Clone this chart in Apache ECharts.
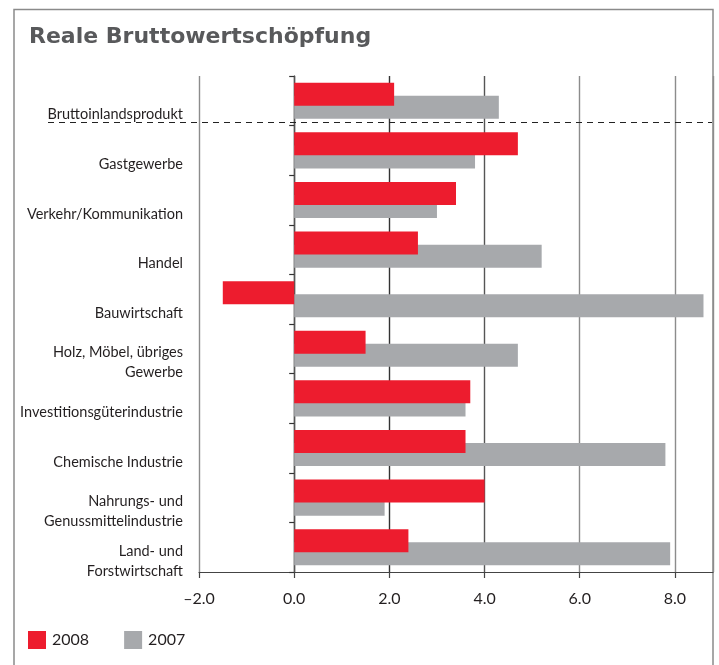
<!DOCTYPE html>
<html>
<head>
<meta charset="utf-8">
<script src="https://cdn.jsdelivr.net/npm/echarts@6/dist/echarts.min.js"></script>
<style>
html,body{margin:0;padding:0;background:#fff;}
#chart{width:719px;height:665px;}
</style>
</head>
<body>
<div id="chart"></div>
<script>
var titleText = 'Reale Bruttowertschöpfung';
var categories = ['Bruttoinlandsprodukt','Gastgewerbe','Verkehr/Kommunikation','Handel','Bauwirtschaft','Holz, Möbel, übriges\nGewerbe','Investitionsgüterindustrie','Chemische Industrie','Nahrungs- und\nGenussmittelindustrie','Land- und\nForstwirtschaft'];
var values2008 = [2.1, 4.7, 3.4, 2.6, -1.5, 1.5, 3.7, 3.6, 4.0, 2.4];
var values2007 = [4.3, 3.8, 3.0, 5.2, 8.6, 4.7, 3.6, 7.8, 1.9, 7.9];
var seriesNames = ['2008', '2007'];
var xMin = -2, xMax = 8.8, xStep = 2;

var chart = echarts.init(document.getElementById('chart'), null, {renderer: 'canvas'});
var labelFont = 'Lato, "Liberation Sans", sans-serif';
var option = {
  animation: false,
  backgroundColor: '#fff',
  title: {
    text: titleText,
    left: 29, top: 26,
    padding: 0,
    textStyle: {fontFamily: '"DejaVu Sans", sans-serif', fontWeight: 'bold', fontSize: 22, color: '#58595b'}
  },
  legend: {
    data: seriesNames,
    left: 28, top: 631,
    padding: 0,
    itemWidth: 18, itemHeight: 18, itemGap: 35,
    icon: 'rect',
    textStyle: {fontFamily: labelFont, fontSize: 16, color: '#231f20', padding: [0,0,0,1]}
  },
  grid: {left: 199, right: 6, top: 76, bottom: 93, containLabel: false},
  xAxis: {
    type: 'value', min: xMin, max: xMax, interval: xStep,
    axisLine: {show: true, lineStyle: {color: '#444', width: 1.2}},
    axisTick: {show: true, length: 6, lineStyle: {color: '#444', width: 1.2}},
    axisLabel: {
      showMaxLabel: false, margin: 19,
      fontFamily: labelFont, fontSize: 16, color: '#231f20',
      formatter: function (v) { return (v < 0 ? '\u2013' : '') + Math.abs(v).toFixed(1); }
    },
    splitLine: {show: true, lineStyle: {color: ['#8c8c8c','#555','#333','#555','#8c8c8c','#8c8c8c','#8c8c8c'], width: 1.4}}
  },
  yAxis: [{
    type: 'category', data: categories, inverse: true,
    axisLine: {show: false, onZero: false},
    axisTick: {show: false},
    splitLine: {show: false},
    axisLabel: {
      interval: 0, showMinLabel: true, showMaxLabel: true,
      margin: 16, align: 'right',
      formatter: function (v) { return '{s| }\n{t|' + v + '}'; },
      rich: {
        s: {fontSize: 4, lineHeight: 28},
        t: {fontFamily: labelFont, fontSize: 14.5, color: '#231f20', lineHeight: 20, align: 'right'}
      }
    }
  }, {
    type: 'category', data: categories, inverse: true, position: 'left',
    axisLine: {show: true, onZero: true, lineStyle: {color: '#555', width: 1.4}},
    axisTick: {show: true, length: 5, inside: false, lineStyle: {color: '#333', width: 1.2}},
    axisLabel: {show: false},
    splitLine: {show: false}
  }],
  series: [{
    name: seriesNames[0], type: 'bar', data: values2008, yAxisIndex: 0,
    barWidth: 23, barGap: '-43%', z: 3,
    itemStyle: {color: '#ed1c2e'}
  }, {
    name: seriesNames[1], type: 'bar', data: values2007, yAxisIndex: 0,
    barWidth: 23, z: 2,
    itemStyle: {color: '#a7a9ac'}
  }],
  graphic: [{
    type: 'rect', silent: true, z: 0,
    shape: {x: 14, y: 9.5, width: 699, height: 700},
    style: {fill: null, stroke: '#8a8a8a', lineWidth: 1.5}
  }, {
    type: 'line', silent: true, z: 20,
    shape: {x1: 48, y1: 122.5, x2: 712, y2: 122.5},
    style: {stroke: '#222', lineWidth: 1.2, lineDash: [6, 5]}
  }]
};
chart.setOption(option);
</script>
</body>
</html>
